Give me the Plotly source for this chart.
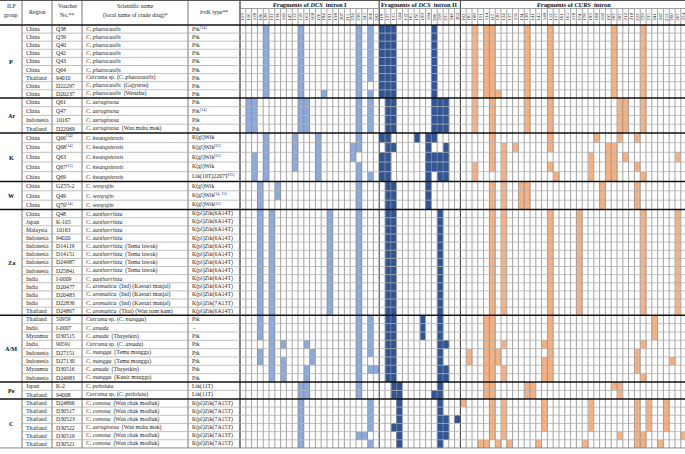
import plotly.graph_objects as go

# ---------------- data ----------------
GROUPS = ["P", "Ar", "K", "W", "Za", "A/M", "Pe", "C"]
GROUP_SIZES = [9, 4, 5, 3, 13, 8, 2, 6]

REGIONS = ["China", "China", "China", "China", "China", "China", "Thailand", "China", "China",
           "China", "China", "Indonesia", "Thailand",
           "China", "China", "China", "China", "China",
           "China", "China", "China",
           "China", "Japan", "Malaysia", "Indonesia", "Indonesia", "Indonesia", "Indonesia", "Indonesia",
           "India", "India", "India", "India", "Thailand",
           "Thailand", "India", "Myanmar", "India", "Indonesia", "Indonesia", "Myanmar", "Indonesia",
           "Japan", "Thailand",
           "Thailand", "Thailand", "Thailand", "Thailand", "Thailand", "Thailand"]

VOUCHERS = ["Q38", "Q39", "Q40", "Q42", "Q43", "Q64", "94010", "D22297", "D20237",
            "Q61", "Q47", "10167", "D22069",
            "Q66", "Q68", "Q63", "Q67", "Q69",
            "GZ55-2", "Q49", "Q70",
            "Q48", "K-105", "10163", "94020", "D14119", "D14151", "D24987", "D25841",
            "I-0009", "D20477", "D20483", "D22836", "D24867",
            "50959", "I-0007", "D30515", "90591", "D27151", "D27130", "D30516", "D24983",
            "K-2", "94008",
            "D24866", "D30517", "D30523", "D30522", "D30519", "D30521"]
VOUCHER_REFS = {"Q66": "[14]", "Q68": "[14]", "Q67": "[15]", "Q70": "[14]"}

SCI_NAMES = ["<i>C. phaeocaulis</i>"] * 6 + [
    "<i>Curcuma</i> sp. (<i>C. phaeocaulis</i>)",
    "<i>C. phaeocaulis</i>  (Gajyutsu)",
    "<i>C. phaeocaulis</i>  (Wenzhu)",
    "<i>C. aeruginosa</i>", "<i>C. aeruginosa</i>", "<i>C. aeruginosa</i>",
    "<i>C. aeruginosa</i>  (Wan maha mek)"] + ["<i>C. kwangsiensis</i>"] * 5 + \
    ["<i>C. wenyujin</i>"] * 3 + ["<i>C. zanthorrhiza</i>"] * 4 + \
    ["<i>C. zanthorrhiza</i>  (Temu lawak)"] * 4 + ["<i>C. zanthorrhiza</i>"] + \
    ["<i>C. aromatica</i>  (Ind) (Kasturi manjal)"] * 3 + [
    "<i>C. aromatica</i>  (Thai) (Wan nam kum)",
    "<i>Curcuma</i> sp. (<i>C. mangga</i>)",
    "<i>C. amada</i>",
    "<i>C. amada</i>  (Thayetkin)",
    "<i>Curcuma</i> sp. (<i>C. amada</i>)",
    "<i>C. mangga</i>  (Temu mangga)",
    "<i>C. mangga</i>  (Temu mangga)",
    "<i>C. amada</i>  (Thayetkin)",
    "<i>C. mangga</i>  (Kunir mangga)",
    "<i>C. petiolata</i>",
    "<i>Curcuma</i> sp. (<i>C. petiolata</i>)",
    "<i>C. comosa</i>  (Wan chak modluk)",
    "<i>C. comosa</i>  (Wan chak modluk)",
    "<i>C. comosa</i>  (Wan chak modluk)",
    "<i>C. aeruginosa</i>  (Wan maha mek)",
    "<i>C. comosa</i>  (Wan chak modluk)",
    "<i>C. comosa</i>  (Wan chak modluk)"]

TRNK_TYPES = ["Ptk"] * 9 + ["Ptk"] * 4 + \
    ["K(gl)Wik", "K(gl)Wik", "K(gl)Wik", "K(gl)Wik", "Ltk(10T)2207T"] + \
    ["K(gl)Wik", "K(gl)Wik", "K(gl)Wik"] + \
    ["K(pl)Zik(6A14T)"] * 11 + ["K(pl)Zik(7A13T)", "K(pl)Zik(6A14T)"] + \
    ["Ptk", "–", "Ptk", "Ptk", "Ptk", "Ptk", "Ptk", "Ptk"] + \
    ["Ltk(11T)", "Ltk(11T)"] + \
    ["K(pl)Zik(7A15T)"] * 4 + ["K(pl)Zik(7A13T)", "K(pl)Zik(7A15T)"]
TRNK_REFS = {0: "[14]", 10: "[14]", 14: "[25]", 15: "[25]", 17: "[25]", 19: "[14, 15]", 20: "[25]"}

DCS1_LABELS = ["113", "116", "120", "126", "128", "131", "136", "141", "147", "152", "158", "163",
               "168", "176", "184", "191", "198", "207", "215", "224", "238", "245", "266", "283"]
DCS2_LABELS = ["118", "127", "135", "144", "152", "165", "176", "183", "194", "206", "218", "235",
               "246", "262"]
CURS_LABELS = ["102", "105", "108", "111", "114", "117", "120", "124", "127", "131", "134", "138",
               "141", "145", "149", "153", "157", "161", "165", "170", "174", "178", "183", "188",
               "192", "197", "202", "207", "212", "218", "223", "229", "235", "241", "247", "253",
               "260", "267", "274"]

# present fragments (column indices) for each accession
DCS1_CELLS = [[4, 10, 20, 22]] * 7 + [[4, 10, 20], [4, 10, 14, 20, 22]] + \
    [[1, 2, 10, 11, 20, 22]] * 4 + \
    [[4, 9, 13, 20], [4, 9, 13, 19, 20], [2, 4, 9, 13, 19], [2, 4, 9, 13, 20], [2, 4, 13, 20, 22]] + \
    [[3, 6, 20], [3, 6, 20], [3, 20]] + \
    [[3, 5, 15, 20]] * 13 + \
    [[3, 5, 20, 22]] * 3 + \
    [[5, 7, 11, 20, 22], [3, 5, 12, 20, 22], [3, 5, 7, 12, 20], [5, 7, 11, 20, 22, 23], [5, 7, 11, 20]] + \
    [[10, 11, 20], [10, 11, 20]] + \
    [[10, 22]] * 4 + [[10, 20, 21], [10, 22]]

DCS2_CELLS = [[0, 1, 2, 9]] * 9 + [[1, 2, 9, 10, 11]] * 4 + \
    [[0, 1, 6, 8, 9], [1, 2, 8, 11], [0, 1, 8, 9, 10, 11], [0, 1, 8, 9, 10, 11], [0, 1, 8, 10, 11]] + \
    [[1, 2, 8]] * 3 + [[1, 2, 10]] * 13 + \
    [[1, 2, 7, 10]] * 3 + [[1, 2, 10, 11], [1, 2, 10], [1, 2, 10], [1, 2, 10, 11], [1, 2, 10, 11]] + \
    [[2, 3, 10], [2, 3, 9, 10]] + \
    [[3, 10], [3, 10], [3, 10, 11, 13], [2, 3, 10, 11], [3, 10, 11], [3, 10]]

CURS_CELLS = [[2, 4, 5, 11, 15, 26, 31]] * 8 + [[2, 4, 5, 6, 11, 15, 26, 31]] + \
    [[2, 5, 11, 15, 27, 28, 31]] * 4 + \
    [[5, 15, 23, 27, 30], [5, 7, 9, 15, 25, 26], [5, 7, 22, 25, 26, 28, 37],
     [2, 5, 7, 15, 22, 25, 26, 30], [2, 7, 16, 22, 25, 26, 31]] + \
    [[5, 7, 10, 11, 24, 30]] * 3 + [[5, 7, 15, 20, 31, 37]] * 13 + \
    [[4, 5, 15, 33]] * 3 + \
    [[4, 5, 7, 14, 15, 31], [1, 4, 5, 6, 15, 30], [1, 4, 5, 6, 14, 15, 30, 36],
     [4, 5, 7, 14, 15, 30], [4, 5, 7, 14, 15, 31]] + \
    [[4, 5, 11, 12, 26, 27], [4, 5, 11, 12, 27]] + \
    [[0, 5, 7, 14, 22, 30, 32, 35]] + [[5, 7, 14, 22, 30, 32, 35]] * 3 + \
    [[5, 7, 27, 30, 31, 38], [3, 4, 6, 8, 13, 21, 30, 31, 34]]

# ---------------- layout constants ----------------
W, H = 685, 454
FONT = "Liberation Serif"
LEFT_EDGES = [0, 22, 52, 82, 188, 240]
SECTION_X0 = [240.0, 379.2, 460.4]
CELL_W = 5.8
HEADER_BOTTOM = 25.0
TITLE_LINE = 8.5
GROUP_ROW_H = [8.1, 8.75, 9.7, 9.4, 8.13, 8.33, 8.5, 8.17]
SECTION_COLORS = ["#8eaadb", "#2f5597", "#f4b183"]
SECTION_TITLES = ["<b>Fragments of <i>DCS</i>  intron I</b>",
                  "<b>Fragments of <i>DCS</i>  intron II</b>",
                  "<b>Fragments of <i>CURS</i>  intron</b>"]
CELL_SIZE = 5.8
SUP_SIZE = 4.0

# Times (Liberation Serif) advance widths, per 1000 em, for placing superscripts
TIMES_W = {"P": 556, "t": 278, "k": 500, "Q": 722, "K": 722, "(": 333, ")": 333, "g": 500,
           "l": 278, "W": 944, "i": 278, "L": 611, "T": 611}


def text_width(s, size):
    return sum(TIMES_W.get(ch, 500) for ch in s) * size / 1000.0


# row edges
row_edges = [HEADER_BOTTOM]
group_edges = [HEADER_BOTTOM]
for n, h in zip(GROUP_SIZES, GROUP_ROW_H):
    for _ in range(n):
        row_edges.append(row_edges[-1] + h)
    group_edges.append(row_edges[-1])
n_rows = len(row_edges) - 1
row_mid = [(row_edges[i] + row_edges[i + 1]) / 2 for i in range(n_rows)]
bottom = row_edges[-1]

fig = go.Figure()

sections = [(DCS1_LABELS, DCS1_CELLS), (DCS2_LABELS, DCS2_CELLS), (CURS_LABELS, CURS_CELLS)]
shapes = []
annotations = []

for si, (labels, cells) in enumerate(sections):
    ncol = len(labels)
    x0 = SECTION_X0[si]
    x_edges = [x0 + CELL_W * k for k in range(ncol + 1)]
    z = [[1 if k in cells[r] else None for k in range(ncol)] for r in range(n_rows)]
    c = SECTION_COLORS[si]
    fig.add_trace(go.Heatmap(z=z, x=x_edges, y=row_edges, colorscale=[[0, c], [1, c]],
                             zmin=0, zmax=1, showscale=False, hoverinfo="skip"))
    for k in range(1, ncol):
        shapes.append(dict(type="line", x0=x_edges[k], x1=x_edges[k], y0=TITLE_LINE, y1=bottom,
                           line=dict(color="#8a8a8a", width=0.8)))
    for k, lab in enumerate(labels):
        annotations.append(dict(x=x0 + CELL_W * (k + 0.5), y=(TITLE_LINE + HEADER_BOTTOM) / 2,
                                text=lab, textangle=-90, showarrow=False,
                                font=dict(family=FONT, size=5, color="#111")))
    annotations.append(dict(x=x0 + CELL_W * ncol / 2, y=4.6, text=SECTION_TITLES[si], showarrow=False,
                            font=dict(family=FONT, size=6.3, color="#111")))
    shapes.append(dict(type="line", x0=x0, x1=x0, y0=0, y1=bottom,
                       line=dict(color="#444", width=1.1)))

for xe in LEFT_EDGES[1:]:
    shapes.append(dict(type="line", x0=xe, x1=xe, y0=0, y1=bottom, line=dict(color="#666", width=0.9)))

for ye in row_edges[1:-1]:
    if ye in group_edges:
        continue
    shapes.append(dict(type="line", x0=LEFT_EDGES[1], x1=W, y0=ye, y1=ye,
                       line=dict(color="#b0b0b0", width=0.8)))
for ye in group_edges[1:-1]:
    shapes.append(dict(type="line", x0=0, x1=W, y0=ye, y1=ye, line=dict(color="#111", width=1.5)))
shapes.append(dict(type="line", x0=0, x1=W, y0=HEADER_BOTTOM, y1=HEADER_BOTTOM,
                   line=dict(color="#111", width=1.5)))
shapes.append(dict(type="line", x0=0, x1=W, y0=0.5, y1=0.5, line=dict(color="#555", width=1)))
shapes.append(dict(type="line", x0=SECTION_X0[0], x1=W, y0=TITLE_LINE, y1=TITLE_LINE,
                   line=dict(color="#888", width=0.8)))
shapes.append(dict(type="line", x0=0, x1=W, y0=bottom, y1=bottom, line=dict(color="#888", width=1)))

hdr_font = dict(family=FONT, size=5.8, color="#222")
for txt, xc, yc in [("ILP", 11, 6), ("group", 11, 15), ("Region", 37, 12), ("Voucher", 67, 6),
                    ("No.**", 67, 15), ("Scientific name", 135, 6),
                    ("(local name of crude drug)*", 135, 15), ("<i>trn</i>K type**", 214, 12)]:
    annotations.append(dict(x=xc, y=yc, text=txt, showarrow=False, font=hdr_font))

for gi, g in enumerate(GROUPS):
    annotations.append(dict(x=11, y=(group_edges[gi] + group_edges[gi + 1]) / 2, text="<b>" + g + "</b>",
                            showarrow=False, font=dict(family=FONT, size=6.2, color="#111")))

cell_font = dict(family=FONT, size=CELL_SIZE, color="#222")
sup_font = dict(family=FONT, size=SUP_SIZE, color="#222")
for r in range(n_rows):
    cols = [(REGIONS[r], LEFT_EDGES[1] + 1.5, None), (VOUCHERS[r], LEFT_EDGES[2] + 1.5, VOUCHER_REFS.get(VOUCHERS[r])),
            (SCI_NAMES[r], LEFT_EDGES[3] + 1.5, None), (TRNK_TYPES[r], LEFT_EDGES[4] + 1.5, TRNK_REFS.get(r))]
    for txt, xl, ref in cols:
        annotations.append(dict(x=xl, y=row_mid[r], text=txt, xanchor="left", yanchor="middle",
                                showarrow=False, font=cell_font))
        if ref:
            annotations.append(dict(x=xl + text_width(txt, CELL_SIZE) + 0.3, y=row_mid[r] - 1.8, text=ref,
                                    xanchor="left", yanchor="middle", showarrow=False, font=sup_font))

fig.update_layout(
    width=W, height=H, margin=dict(l=0, r=0, t=0, b=0),
    paper_bgcolor="white", plot_bgcolor="white",
    xaxis=dict(range=[0, W], visible=False, fixedrange=True),
    yaxis=dict(range=[H, 0], visible=False, fixedrange=True),
    shapes=shapes, annotations=annotations, showlegend=False,
)

fig.write_html("out.html", config={"displayModeBar": False},
               post_script="document.body.style.margin='0';document.body.style.overflow='hidden';")
